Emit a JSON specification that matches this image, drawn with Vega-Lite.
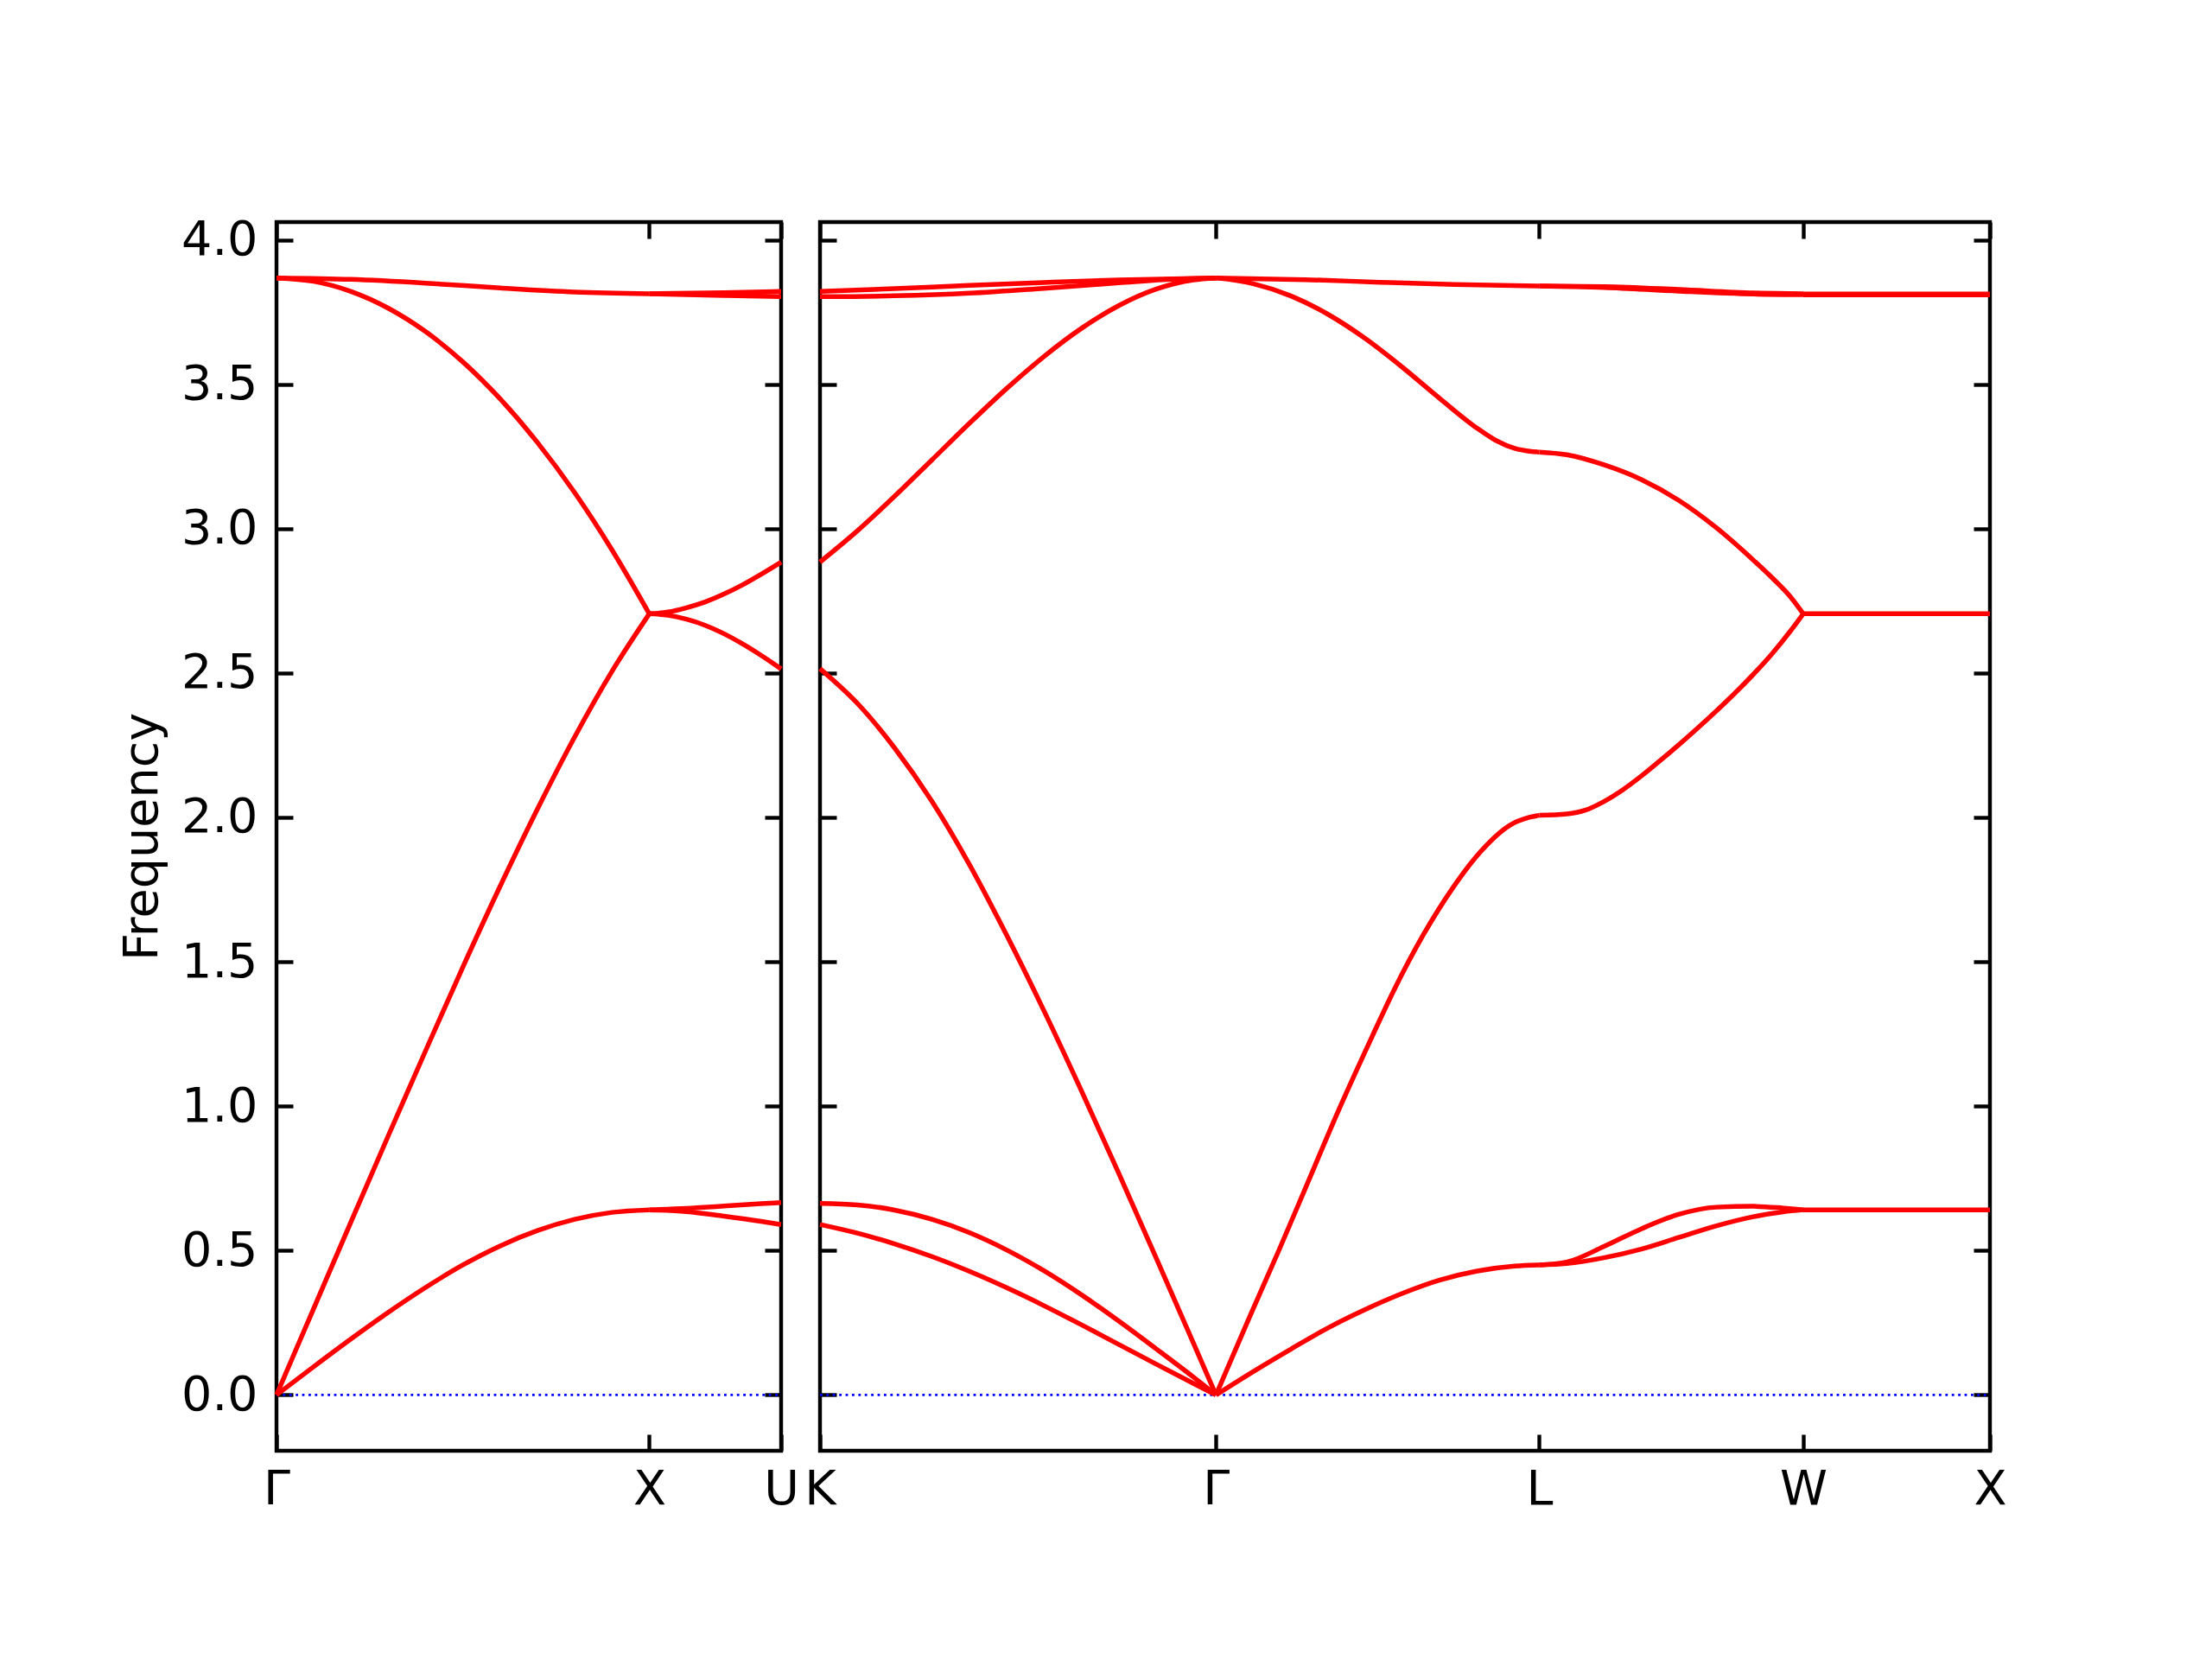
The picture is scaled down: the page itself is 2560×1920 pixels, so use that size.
{
  "$schema": "https://vega.github.io/schema/vega-lite/v6.json",
  "background": "white",
  "padding": {"left": 135, "top": 248, "right": 250, "bottom": 150},
  "bounds": "flush",
  "spacing": 45,
  "config": {
    "font": "DejaVu Sans",
    "view": {"stroke": "black", "strokeWidth": 4.4},
    "axis": {
      "grid": false,
      "domain": false,
      "ticks": true,
      "tickColor": "black",
      "tickWidth": 4.4,
      "tickSize": -19,
      "labelFont": "DejaVu Sans",
      "labelFontSize": 55.6,
      "labelColor": "black",
      "labelOverlap": false,
      "labelFlush": false,
      "labelBound": false,
      "titleFont": "DejaVu Sans",
      "titleFontSize": 55.6,
      "titleFontWeight": "normal",
      "titleColor": "black"
    },
    "axisX": {"labelPadding": 36},
    "axisY": {"labelPadding": 41, "titlePadding": 16}
  },
  "datasets": {
    "zeroL": [{"k": 0, "f": 0}, {"k": 1.35355, "f": 0}],
    "zeroR": [{"k": 0, "f": 0}, {"k": 3.13388, "f": 0}],
    "left": [
      {"s": "gx_ta", "k": 0, "f": 0}, {"s": "gx_ta", "k": 0.1, "f": 0.098}, {"s": "gx_ta", "k": 0.2, "f": 0.194}, {"s": "gx_ta", "k": 0.3, "f": 0.286}, {"s": "gx_ta", "k": 0.4, "f": 0.372}, {"s": "gx_ta", "k": 0.5, "f": 0.45}, {"s": "gx_ta", "k": 0.6, "f": 0.516}, {"s": "gx_ta", "k": 0.7, "f": 0.569}, {"s": "gx_ta", "k": 0.8, "f": 0.608}, {"s": "gx_ta", "k": 0.9, "f": 0.632}, {"s": "gx_ta", "k": 1.0, "f": 0.641},
      {"s": "gx_la", "k": 0, "f": 0}, {"s": "gx_la", "k": 0.1, "f": 0.3}, {"s": "gx_la", "k": 0.2, "f": 0.6}, {"s": "gx_la", "k": 0.3, "f": 0.898}, {"s": "gx_la", "k": 0.4, "f": 1.192}, {"s": "gx_la", "k": 0.5, "f": 1.482}, {"s": "gx_la", "k": 0.6, "f": 1.762}, {"s": "gx_la", "k": 0.7, "f": 2.029}, {"s": "gx_la", "k": 0.8, "f": 2.279}, {"s": "gx_la", "k": 0.9, "f": 2.506}, {"s": "gx_la", "k": 1.0, "f": 2.705},
      {"s": "gx_lo", "k": 0, "f": 3.868}, {"s": "gx_lo", "k": 0.1, "f": 3.856}, {"s": "gx_lo", "k": 0.2, "f": 3.821}, {"s": "gx_lo", "k": 0.3, "f": 3.763}, {"s": "gx_lo", "k": 0.4, "f": 3.682}, {"s": "gx_lo", "k": 0.5, "f": 3.577}, {"s": "gx_lo", "k": 0.6, "f": 3.449}, {"s": "gx_lo", "k": 0.7, "f": 3.298}, {"s": "gx_lo", "k": 0.8, "f": 3.124}, {"s": "gx_lo", "k": 0.9, "f": 2.926}, {"s": "gx_lo", "k": 1.0, "f": 2.705},
      {"s": "gx_to", "k": 0, "f": 3.868}, {"s": "gx_to", "k": 0.2, "f": 3.863}, {"s": "gx_to", "k": 0.4, "f": 3.85}, {"s": "gx_to", "k": 0.6, "f": 3.833}, {"s": "gx_to", "k": 0.8, "f": 3.819}, {"s": "gx_to", "k": 1.0, "f": 3.813},
      {"s": "xu_ta1", "k": 1.0, "f": 0.641}, {"s": "xu_ta1", "k": 1.1, "f": 0.646}, {"s": "xu_ta1", "k": 1.2, "f": 0.654}, {"s": "xu_ta1", "k": 1.3, "f": 0.662}, {"s": "xu_ta1", "k": 1.35355, "f": 0.666},
      {"s": "xu_ta2", "k": 1.0, "f": 0.641}, {"s": "xu_ta2", "k": 1.1, "f": 0.635}, {"s": "xu_ta2", "k": 1.2, "f": 0.619}, {"s": "xu_ta2", "k": 1.3, "f": 0.601}, {"s": "xu_ta2", "k": 1.35355, "f": 0.59},
      {"s": "xu_la", "k": 1.0, "f": 2.705}, {"s": "xu_la", "k": 1.05, "f": 2.7}, {"s": "xu_la", "k": 1.1, "f": 2.686}, {"s": "xu_la", "k": 1.15, "f": 2.665}, {"s": "xu_la", "k": 1.2, "f": 2.636}, {"s": "xu_la", "k": 1.25, "f": 2.601}, {"s": "xu_la", "k": 1.3, "f": 2.561}, {"s": "xu_la", "k": 1.35355, "f": 2.514},
      {"s": "xu_lo", "k": 1.0, "f": 2.705}, {"s": "xu_lo", "k": 1.05, "f": 2.711}, {"s": "xu_lo", "k": 1.1, "f": 2.726}, {"s": "xu_lo", "k": 1.15, "f": 2.746}, {"s": "xu_lo", "k": 1.2, "f": 2.773}, {"s": "xu_lo", "k": 1.25, "f": 2.805}, {"s": "xu_lo", "k": 1.3, "f": 2.842}, {"s": "xu_lo", "k": 1.35355, "f": 2.884},
      {"s": "xu_to1", "k": 1.0, "f": 3.813}, {"s": "xu_to1", "k": 1.2, "f": 3.817}, {"s": "xu_to1", "k": 1.35355, "f": 3.821},
      {"s": "xu_to2", "k": 1.0, "f": 3.813}, {"s": "xu_to2", "k": 1.2, "f": 3.807}, {"s": "xu_to2", "k": 1.35355, "f": 3.803}
    ],
    "right": [
      {"s": "kg_ta1", "k": 0, "f": 0.663}, {"s": "kg_ta1", "k": 0.1, "f": 0.658}, {"s": "kg_ta1", "k": 0.2, "f": 0.64}, {"s": "kg_ta1", "k": 0.3, "f": 0.608}, {"s": "kg_ta1", "k": 0.4, "f": 0.562}, {"s": "kg_ta1", "k": 0.5, "f": 0.502}, {"s": "kg_ta1", "k": 0.6, "f": 0.43}, {"s": "kg_ta1", "k": 0.7, "f": 0.347}, {"s": "kg_ta1", "k": 0.8, "f": 0.256}, {"s": "kg_ta1", "k": 0.9, "f": 0.16}, {"s": "kg_ta1", "k": 1.0, "f": 0.062}, {"s": "kg_ta1", "k": 1.06066, "f": 0},
      {"s": "kg_ta2", "k": 0, "f": 0.59}, {"s": "kg_ta2", "k": 0.1, "f": 0.56}, {"s": "kg_ta2", "k": 0.2, "f": 0.523}, {"s": "kg_ta2", "k": 0.3, "f": 0.479}, {"s": "kg_ta2", "k": 0.4, "f": 0.428}, {"s": "kg_ta2", "k": 0.5, "f": 0.371}, {"s": "kg_ta2", "k": 0.6, "f": 0.309}, {"s": "kg_ta2", "k": 0.7, "f": 0.243}, {"s": "kg_ta2", "k": 0.8, "f": 0.175}, {"s": "kg_ta2", "k": 0.9, "f": 0.107}, {"s": "kg_ta2", "k": 1.0, "f": 0.04}, {"s": "kg_ta2", "k": 1.06066, "f": 0},
      {"s": "kg_la", "k": 0, "f": 2.515}, {"s": "kg_la", "k": 0.1, "f": 2.395}, {"s": "kg_la", "k": 0.2, "f": 2.24}, {"s": "kg_la", "k": 0.3, "f": 2.055}, {"s": "kg_la", "k": 0.4, "f": 1.837}, {"s": "kg_la", "k": 0.5, "f": 1.592}, {"s": "kg_la", "k": 0.6, "f": 1.33}, {"s": "kg_la", "k": 0.7, "f": 1.054}, {"s": "kg_la", "k": 0.8, "f": 0.768}, {"s": "kg_la", "k": 0.9, "f": 0.476}, {"s": "kg_la", "k": 1.0, "f": 0.18}, {"s": "kg_la", "k": 1.06066, "f": 0},
      {"s": "kg_lo", "k": 0, "f": 2.884}, {"s": "kg_lo", "k": 0.1, "f": 2.992}, {"s": "kg_lo", "k": 0.2, "f": 3.112}, {"s": "kg_lo", "k": 0.3, "f": 3.238}, {"s": "kg_lo", "k": 0.4, "f": 3.364}, {"s": "kg_lo", "k": 0.5, "f": 3.485}, {"s": "kg_lo", "k": 0.6, "f": 3.596}, {"s": "kg_lo", "k": 0.7, "f": 3.693}, {"s": "kg_lo", "k": 0.8, "f": 3.772}, {"s": "kg_lo", "k": 0.9, "f": 3.829}, {"s": "kg_lo", "k": 1.0, "f": 3.861}, {"s": "kg_lo", "k": 1.06066, "f": 3.868},
      {"s": "kg_to1", "k": 0, "f": 3.821}, {"s": "kg_to1", "k": 0.2, "f": 3.831}, {"s": "kg_to1", "k": 0.4, "f": 3.842}, {"s": "kg_to1", "k": 0.6, "f": 3.852}, {"s": "kg_to1", "k": 0.8, "f": 3.861}, {"s": "kg_to1", "k": 1.06066, "f": 3.868},
      {"s": "kg_to2", "k": 0, "f": 3.803}, {"s": "kg_to2", "k": 0.2, "f": 3.806}, {"s": "kg_to2", "k": 0.4, "f": 3.815}, {"s": "kg_to2", "k": 0.6, "f": 3.832}, {"s": "kg_to2", "k": 0.8, "f": 3.851}, {"s": "kg_to2", "k": 0.95, "f": 3.864}, {"s": "kg_to2", "k": 1.06066, "f": 3.868},
      {"s": "gl_ta", "k": 1.06066, "f": 0}, {"s": "gl_ta", "k": 1.16066, "f": 0.081}, {"s": "gl_ta", "k": 1.26066, "f": 0.158}, {"s": "gl_ta", "k": 1.36066, "f": 0.232}, {"s": "gl_ta", "k": 1.46066, "f": 0.296}, {"s": "gl_ta", "k": 1.56066, "f": 0.352}, {"s": "gl_ta", "k": 1.66066, "f": 0.398}, {"s": "gl_ta", "k": 1.76066, "f": 0.429}, {"s": "gl_ta", "k": 1.86066, "f": 0.446}, {"s": "gl_ta", "k": 1.92669, "f": 0.45},
      {"s": "gl_la", "k": 1.06066, "f": 0}, {"s": "gl_la", "k": 1.15, "f": 0.268}, {"s": "gl_la", "k": 1.229, "f": 0.5}, {"s": "gl_la", "k": 1.3, "f": 0.715}, {"s": "gl_la", "k": 1.389, "f": 0.985}, {"s": "gl_la", "k": 1.48, "f": 1.244}, {"s": "gl_la", "k": 1.538, "f": 1.403}, {"s": "gl_la", "k": 1.616, "f": 1.593}, {"s": "gl_la", "k": 1.693, "f": 1.752}, {"s": "gl_la", "k": 1.77, "f": 1.882}, {"s": "gl_la", "k": 1.847, "f": 1.972}, {"s": "gl_la", "k": 1.9, "f": 2.0}, {"s": "gl_la", "k": 1.92669, "f": 2.007},
      {"s": "gl_lo", "k": 1.06066, "f": 3.868}, {"s": "gl_lo", "k": 1.16066, "f": 3.848}, {"s": "gl_lo", "k": 1.26066, "f": 3.806}, {"s": "gl_lo", "k": 1.36066, "f": 3.742}, {"s": "gl_lo", "k": 1.46066, "f": 3.658}, {"s": "gl_lo", "k": 1.56066, "f": 3.558}, {"s": "gl_lo", "k": 1.66066, "f": 3.45}, {"s": "gl_lo", "k": 1.76066, "f": 3.347}, {"s": "gl_lo", "k": 1.81066, "f": 3.305}, {"s": "gl_lo", "k": 1.86066, "f": 3.278}, {"s": "gl_lo", "k": 1.90066, "f": 3.268}, {"s": "gl_lo", "k": 1.92669, "f": 3.265},
      {"s": "gl_to", "k": 1.06066, "f": 3.868}, {"s": "gl_to", "k": 1.3, "f": 3.862}, {"s": "gl_to", "k": 1.5, "f": 3.853}, {"s": "gl_to", "k": 1.7, "f": 3.845}, {"s": "gl_to", "k": 1.92669, "f": 3.84},
      {"s": "lw_ta1", "k": 1.92669, "f": 0.45}, {"s": "lw_ta1", "k": 2.0, "f": 0.46}, {"s": "lw_ta1", "k": 2.1, "f": 0.514}, {"s": "lw_ta1", "k": 2.2, "f": 0.575}, {"s": "lw_ta1", "k": 2.3, "f": 0.625}, {"s": "lw_ta1", "k": 2.4, "f": 0.65}, {"s": "lw_ta1", "k": 2.5, "f": 0.653}, {"s": "lw_ta1", "k": 2.58, "f": 0.647}, {"s": "lw_ta1", "k": 2.63379, "f": 0.641},
      {"s": "lw_ta2", "k": 1.92669, "f": 0.45}, {"s": "lw_ta2", "k": 2.0, "f": 0.455}, {"s": "lw_ta2", "k": 2.1, "f": 0.475}, {"s": "lw_ta2", "k": 2.2, "f": 0.505}, {"s": "lw_ta2", "k": 2.3, "f": 0.545}, {"s": "lw_ta2", "k": 2.4, "f": 0.585}, {"s": "lw_ta2", "k": 2.5, "f": 0.617}, {"s": "lw_ta2", "k": 2.58, "f": 0.634}, {"s": "lw_ta2", "k": 2.63379, "f": 0.641},
      {"s": "lw_la", "k": 1.92669, "f": 2.007}, {"s": "lw_la", "k": 2.0, "f": 2.012}, {"s": "lw_la", "k": 2.05, "f": 2.025}, {"s": "lw_la", "k": 2.1, "f": 2.055}, {"s": "lw_la", "k": 2.15, "f": 2.095}, {"s": "lw_la", "k": 2.2, "f": 2.143}, {"s": "lw_la", "k": 2.25, "f": 2.196}, {"s": "lw_la", "k": 2.3, "f": 2.251}, {"s": "lw_la", "k": 2.35, "f": 2.308}, {"s": "lw_la", "k": 2.4, "f": 2.367}, {"s": "lw_la", "k": 2.45, "f": 2.429}, {"s": "lw_la", "k": 2.5, "f": 2.495}, {"s": "lw_la", "k": 2.55, "f": 2.566}, {"s": "lw_la", "k": 2.6, "f": 2.646}, {"s": "lw_la", "k": 2.63379, "f": 2.705},
      {"s": "lw_lo", "k": 1.92669, "f": 3.265}, {"s": "lw_lo", "k": 2.0, "f": 3.256}, {"s": "lw_lo", "k": 2.1, "f": 3.221}, {"s": "lw_lo", "k": 2.2, "f": 3.17}, {"s": "lw_lo", "k": 2.3, "f": 3.098}, {"s": "lw_lo", "k": 2.4, "f": 3.004}, {"s": "lw_lo", "k": 2.5, "f": 2.891}, {"s": "lw_lo", "k": 2.55, "f": 2.83}, {"s": "lw_lo", "k": 2.6, "f": 2.763}, {"s": "lw_lo", "k": 2.63379, "f": 2.705},
      {"s": "lw_to1", "k": 1.92669, "f": 3.84}, {"s": "lw_to1", "k": 2.1, "f": 3.838}, {"s": "lw_to1", "k": 2.3, "f": 3.828}, {"s": "lw_to1", "k": 2.5, "f": 3.816}, {"s": "lw_to1", "k": 2.63379, "f": 3.813},
      {"s": "lw_to2", "k": 1.92669, "f": 3.84}, {"s": "lw_to2", "k": 2.1, "f": 3.835}, {"s": "lw_to2", "k": 2.3, "f": 3.822}, {"s": "lw_to2", "k": 2.5, "f": 3.812}, {"s": "lw_to2", "k": 2.63379, "f": 3.81},
      {"s": "wx_ta", "k": 2.63379, "f": 0.641}, {"s": "wx_ta", "k": 3.13388, "f": 0.641},
      {"s": "wx_la", "k": 2.63379, "f": 2.705}, {"s": "wx_la", "k": 3.13388, "f": 2.705},
      {"s": "wx_to1", "k": 2.63379, "f": 3.812}, {"s": "wx_to1", "k": 3.13388, "f": 3.812},
      {"s": "wx_to2", "k": 2.63379, "f": 3.809}, {"s": "wx_to2", "k": 3.13388, "f": 3.809}
    ]
  },
  "hconcat": [
    {
      "width": 584,
      "height": 1422,
      "layer": [
        {
          "data": {"name": "zeroL"},
          "mark": {"type": "line", "color": "blue", "strokeWidth": 2.8, "strokeDash": [2.8, 4.6]},
          "encoding": {
            "x": {"field": "k", "type": "quantitative", "scale": {"domain": [0, 1.35355], "nice": false, "zero": false},
                  "axis": {"orient": "top", "values": [0, 1, 1.35355], "labels": false, "title": null}},
            "y": {"field": "f", "type": "quantitative", "scale": {"domain": [-0.1934, 4.0614], "nice": false, "zero": false},
                  "axis": {"orient": "right", "values": [0, 0.5, 1, 1.5, 2, 2.5, 3, 3.5, 4], "labels": false, "title": null}}
          }
        },
        {
          "data": {"name": "left"},
          "mark": {"type": "line", "color": "red", "strokeWidth": 5.5, "interpolate": "monotone"},
          "encoding": {
            "x": {"field": "k", "type": "quantitative", "scale": {"domain": [0, 1.35355], "nice": false, "zero": false},
                  "axis": {"orient": "bottom", "values": [0, 1, 1.35355], "title": null,
                           "labelExpr": "datum.value < 0.5 ? 'Γ' : datum.value < 1.2 ? 'X' : 'U'"}},
            "y": {"field": "f", "type": "quantitative", "scale": {"domain": [-0.1934, 4.0614], "nice": false, "zero": false},
                  "axis": {"orient": "left", "values": [0, 0.5, 1, 1.5, 2, 2.5, 3, 3.5, 4], "format": ".1f", "title": "Frequency"}},
            "detail": {"field": "s", "type": "nominal"}
          }
        }
      ],
      "resolve": {"axis": {"x": "independent", "y": "independent"}}
    },
    {
      "width": 1354,
      "height": 1422,
      "layer": [
        {
          "data": {"name": "zeroR"},
          "mark": {"type": "line", "color": "blue", "strokeWidth": 2.8, "strokeDash": [2.8, 4.6]},
          "encoding": {
            "x": {"field": "k", "type": "quantitative", "scale": {"domain": [0, 3.13388], "nice": false, "zero": false},
                  "axis": {"orient": "top", "values": [0, 1.06066, 1.92669, 2.63379, 3.13388], "labels": false, "title": null}},
            "y": {"field": "f", "type": "quantitative", "scale": {"domain": [-0.1934, 4.0614], "nice": false, "zero": false},
                  "axis": {"orient": "right", "values": [0, 0.5, 1, 1.5, 2, 2.5, 3, 3.5, 4], "labels": false, "title": null}}
          }
        },
        {
          "data": {"name": "right"},
          "mark": {"type": "line", "color": "red", "strokeWidth": 5.5, "interpolate": "monotone"},
          "encoding": {
            "x": {"field": "k", "type": "quantitative", "scale": {"domain": [0, 3.13388], "nice": false, "zero": false},
                  "axis": {"orient": "bottom", "values": [0, 1.06066, 1.92669, 2.63379, 3.13388], "title": null,
                           "labelExpr": "datum.value < 0.5 ? 'K' : datum.value < 1.5 ? 'Γ' : datum.value < 2.3 ? 'L' : datum.value < 2.9 ? 'W' : 'X'"}},
            "y": {"field": "f", "type": "quantitative", "scale": {"domain": [-0.1934, 4.0614], "nice": false, "zero": false},
                  "axis": {"orient": "left", "values": [0, 0.5, 1, 1.5, 2, 2.5, 3, 3.5, 4], "labels": false, "title": null}},
            "detail": {"field": "s", "type": "nominal"}
          }
        }
      ],
      "resolve": {"axis": {"x": "independent", "y": "independent"}}
    }
  ]
}
